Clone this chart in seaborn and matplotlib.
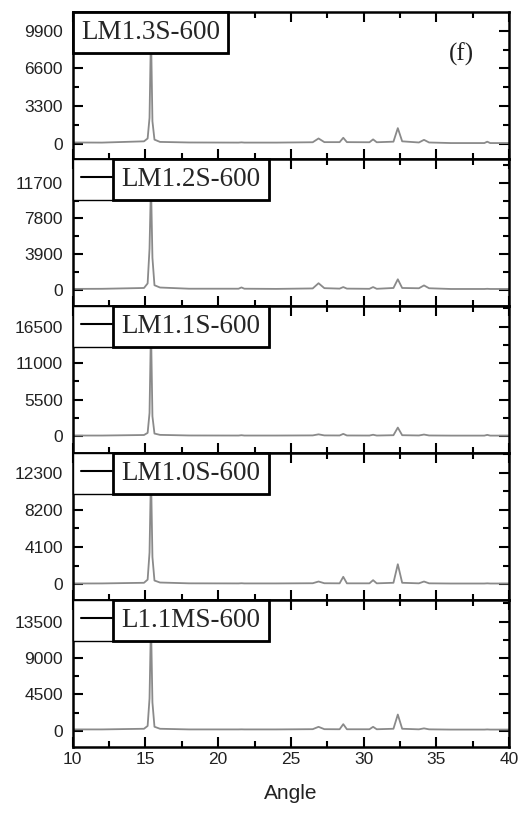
import numpy as np
import pandas as pd
import seaborn as sns
import matplotlib.pyplot as plt
from matplotlib.lines import Line2D
from matplotlib.ticker import MultipleLocator, FixedLocator

# sample names, top to bottom
samples = ['LM1.3S-600', 'LM1.2S-600', 'LM1.1S-600', 'LM1.0S-600', 'L1.1MS-600']

# 2-theta positions (shared by all panels)
angle = [10, 12, 14.9, 15.15, 15.28, 15.38, 15.48, 15.62, 16.0, 18,
         21.4, 21.6, 21.8, 24, 26.5, 26.9, 27.3, 28.35, 28.6, 28.85,
         30.4, 30.65, 30.9, 32.05, 32.35, 32.65, 33.8, 34.15, 34.5, 36,
         38.3, 38.5, 38.7, 40]

# intensities
int_13 = [150, 140, 250, 500, 2300, 9900, 2000, 400, 200, 150,
          140, 160, 140, 140, 170, 500, 180, 180, 560, 180,
          170, 420, 170, 220, 1400, 250, 150, 380, 150, 100,
          100, 220, 100, 100]
int_12 = [100, 110, 200, 700, 4500, 11700, 3500, 500, 250, 120,
          120, 260, 120, 100, 150, 720, 180, 130, 300, 130,
          110, 300, 110, 200, 1150, 200, 170, 480, 170, 90,
          90, 110, 90, 90]
int_11 = [100, 100, 180, 500, 3500, 16500, 3000, 400, 200, 110,
          100, 150, 100, 100, 120, 280, 120, 110, 350, 110,
          100, 220, 100, 150, 1300, 150, 110, 250, 110, 90,
          90, 200, 90, 90]
int_10 = [70, 80, 150, 500, 3500, 12300, 3000, 400, 180, 90,
          80, 100, 80, 80, 100, 290, 100, 90, 810, 90,
          90, 440, 90, 150, 2200, 150, 90, 290, 90, 70,
          70, 90, 70, 70]
int_11m = [170, 170, 250, 600, 4000, 13500, 3500, 500, 250, 170,
           170, 180, 170, 170, 200, 490, 200, 190, 820, 190,
           190, 490, 190, 250, 2010, 250, 180, 300, 180, 150,
           150, 170, 150, 150]
intensities = [int_13, int_12, int_11, int_10, int_11m]

# labelled y ticks of each panel
yticks = [[0, 3300, 6600, 9900],
          [0, 3900, 7800, 11700],
          [0, 5500, 11000, 16500],
          [0, 4100, 8200, 12300],
          [0, 4500, 9000, 13500]]
ylims = [(-1290, 11520), (-1770, 14300), (-2530, 19620), (-1750, 14490), (-2000, 16160)]

sns.set_theme(style='white')
plt.rcParams['font.family'] = ['Liberation Sans', 'DejaVu Sans']
plt.rcParams['xtick.direction'] = 'in'
plt.rcParams['ytick.direction'] = 'in'

fig, axes = plt.subplots(5, 1, figsize=(5.27, 8.17), dpi=100, sharex=True)
fig.subplots_adjust(left=0.138, right=0.966, top=0.9853, bottom=0.0857, hspace=0)

for i, ax in enumerate(axes):
    df = pd.DataFrame({'Angle': angle, 'Intensity': intensities[i]})
    sns.lineplot(data=df, x='Angle', y='Intensity', color='#8a8a8a', lw=1.3, ax=ax)
    ax.set_xlim(10, 40)
    ax.set_ylim(*ylims[i])
    ax.yaxis.set_major_locator(FixedLocator(yticks[i]))
    step = yticks[i][1] / 2
    ax.yaxis.set_minor_locator(MultipleLocator(step))
    ax.xaxis.set_major_locator(MultipleLocator(5))
    ax.xaxis.set_minor_locator(MultipleLocator(2.5))
    ax.tick_params(which='both', top=True, right=True, bottom=True, left=True,
                   width=1.5, color='black', labelsize=12.5, labelcolor='#222222')
    ax.tick_params(which='major', length=7)
    ax.tick_params(which='minor', length=4)
    ax.tick_params(axis='y', pad=7)
    ax.set_ylabel('')
    ax.set_xlabel('')
    for sp in ax.spines.values():
        sp.set_color('black')
        sp.set_linewidth(1.8)

    # legend box with sample name
    handle = Line2D([], [], color='black', lw=1.5)
    if i == 0:
        hl, hp = 0, 0
    else:
        hl, hp = 1.15, 0.35
    leg = ax.legend([handle], [samples[i]], loc='upper left', bbox_to_anchor=(0, 1),
                    borderaxespad=0, frameon=True, fancybox=False, edgecolor='black',
                    handlelength=hl, handletextpad=hp, borderpad=0.3,
                    prop={'family': 'Liberation Serif', 'size': 19.5})
    leg.get_frame().set_linewidth(1.0)
    leg.get_frame().set_alpha(1)
    for t in leg.get_texts():
        t.set_bbox(dict(boxstyle='square,pad=0.3', fc='white', ec='black', lw=2))

axes[0].text(0.89, 0.715, '(f)', transform=axes[0].transAxes, ha='center', va='center',
             fontsize=18, family='Liberation Serif', color='#222222')

axes[-1].set_xlabel('Angle', fontsize=15, color='#222222', labelpad=12)

fig.savefig('out.png', dpi=100)
